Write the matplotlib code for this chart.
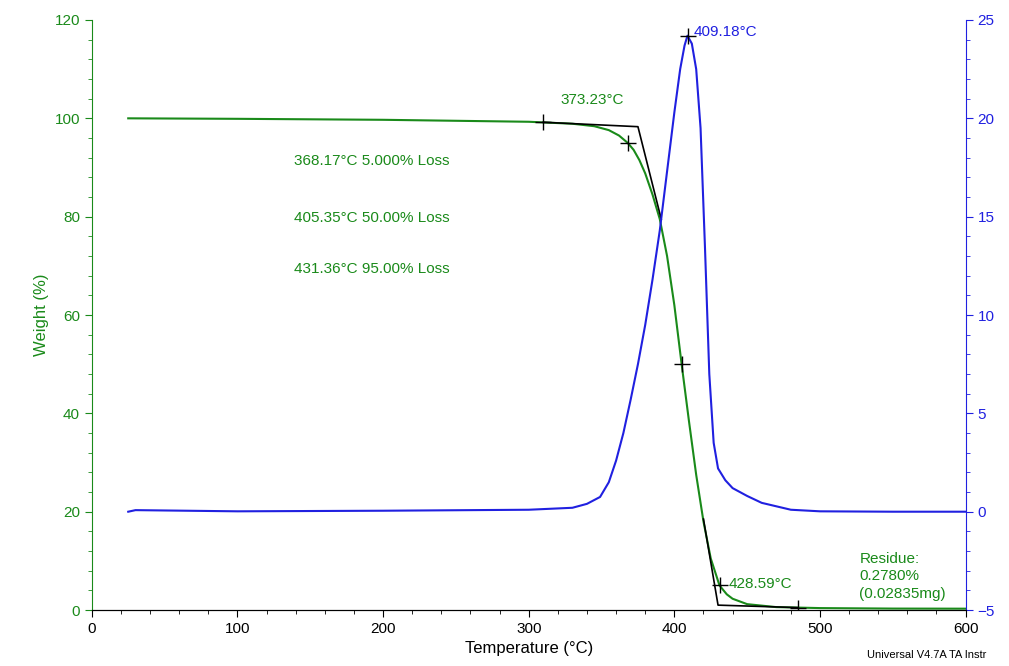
import numpy as np
import matplotlib.pyplot as plt
from matplotlib.ticker import MultipleLocator

plt.rcParams['font.family'] = ['Liberation Sans', 'DejaVu Sans']

GREEN = '#1a8a1a'
BLUE = '#2020e0'

# weight curve (deg C, %)
temp_w = [25, 100, 200, 300, 330, 345, 355, 362, 368, 372, 376, 380, 385, 390, 395, 400, 405, 410, 415, 420, 425, 431, 436, 440, 450, 470, 500, 550, 600]
weight = [100, 99.9, 99.7, 99.3, 98.9, 98.4, 97.6, 96.5, 95.0, 93.6, 91.5, 88.8, 84.5, 79.5, 72.0, 62.0, 50.0, 38.5, 27.5, 18.0, 10.5, 5.0, 3.2, 2.3, 1.2, 0.6, 0.4, 0.3, 0.28]

# derivative weight curve (deg C, %/deg C)
temp_d = [25, 30, 100, 200, 300, 330, 340, 349, 355, 360, 365, 370, 375, 380, 385, 390, 395, 400, 404, 407, 409, 412, 415, 418, 421, 424, 427, 430, 435, 440, 450, 460, 480, 500, 550, 600]
deriv = [0.0, 0.08, 0.02, 0.05, 0.1, 0.2, 0.4, 0.75, 1.5, 2.6, 4.0, 5.7, 7.5, 9.5, 11.8, 14.3, 17.3, 20.3, 22.5, 23.7, 24.2, 23.8, 22.5, 19.5, 13.5, 7.0, 3.5, 2.2, 1.6, 1.2, 0.8, 0.45, 0.1, 0.02, 0.0, 0.0]

# tangent constructions
tan1_x = [310, 375, 391]
tan1_y = [99.2, 98.3, 79.5]
tan2_x = [420, 430, 485]
tan2_y = [18.5, 1.0, 0.5]
marks_x = [310, 368.17, 405.35, 431.36, 485]
marks_y = [99.2, 95.0, 50.0, 5.0, 0.45]

fig = plt.figure(figsize=(10.09, 6.66), dpi=100)
ax = fig.add_axes([0.091, 0.084, 0.866, 0.886])
ax2 = ax.twinx()

ax.plot(temp_w, weight, color=GREEN, lw=1.5)
ax.plot(tan1_x, tan1_y, color='black', lw=1.2)
ax.plot(tan2_x, tan2_y, color='black', lw=1.2)
ax.plot(marks_x, marks_y, '+', color='black', ms=12, mew=1)
ax2.plot(temp_d, deriv, color=BLUE, lw=1.5)
ax2.plot([409.18], [24.2], '+', color='black', ms=12, mew=1)

ax.set_xlim(0, 600)
ax.set_ylim(0, 120)
ax2.set_ylim(-5, 25)
ax.xaxis.set_major_locator(MultipleLocator(100))
ax.xaxis.set_minor_locator(MultipleLocator(20))
ax.yaxis.set_major_locator(MultipleLocator(20))
ax.yaxis.set_minor_locator(MultipleLocator(4))
ax2.yaxis.set_major_locator(MultipleLocator(5))
ax2.yaxis.set_minor_locator(MultipleLocator(1))

for a in (ax, ax2):
    a.tick_params(which='both', direction='out', labelsize=11)
    a.tick_params(which='minor', length=3)
    a.tick_params(which='major', length=5)
    a.spines['top'].set_visible(False)
ax.spines['left'].set_color(GREEN)
ax.tick_params(axis='y', colors=GREEN, which='both')
ax2.spines['right'].set_color(BLUE)
ax2.spines['left'].set_visible(False)
ax2.tick_params(axis='y', colors=BLUE, which='both')
ax.spines['right'].set_visible(False)

ax.set_xlabel('Temperature (°C)', fontsize=12)
ax.set_ylabel('Weight (%)', fontsize=12, color=GREEN)

kw = dict(color=GREEN, fontsize=11)
ax.text(322, 103, '373.23°C', **kw)
ax.text(139, 90.5, '368.17°C 5.000% Loss', **kw)
ax.text(139, 79, '405.35°C 50.00% Loss', **kw)
ax.text(139, 68.5, '431.36°C 95.00% Loss', **kw)
ax.text(437, 4.5, '428.59°C', **kw)
ax.text(527, 2.5, 'Residue:\n0.2780%\n(0.02835mg)', linespacing=1.3, **kw)
ax2.text(413, 24.2, '409.18°C', color=BLUE, fontsize=11)
fig.text(0.859, 0.012, 'Universal V4.7A TA Instr', fontsize=8)

fig.savefig('out.png')
